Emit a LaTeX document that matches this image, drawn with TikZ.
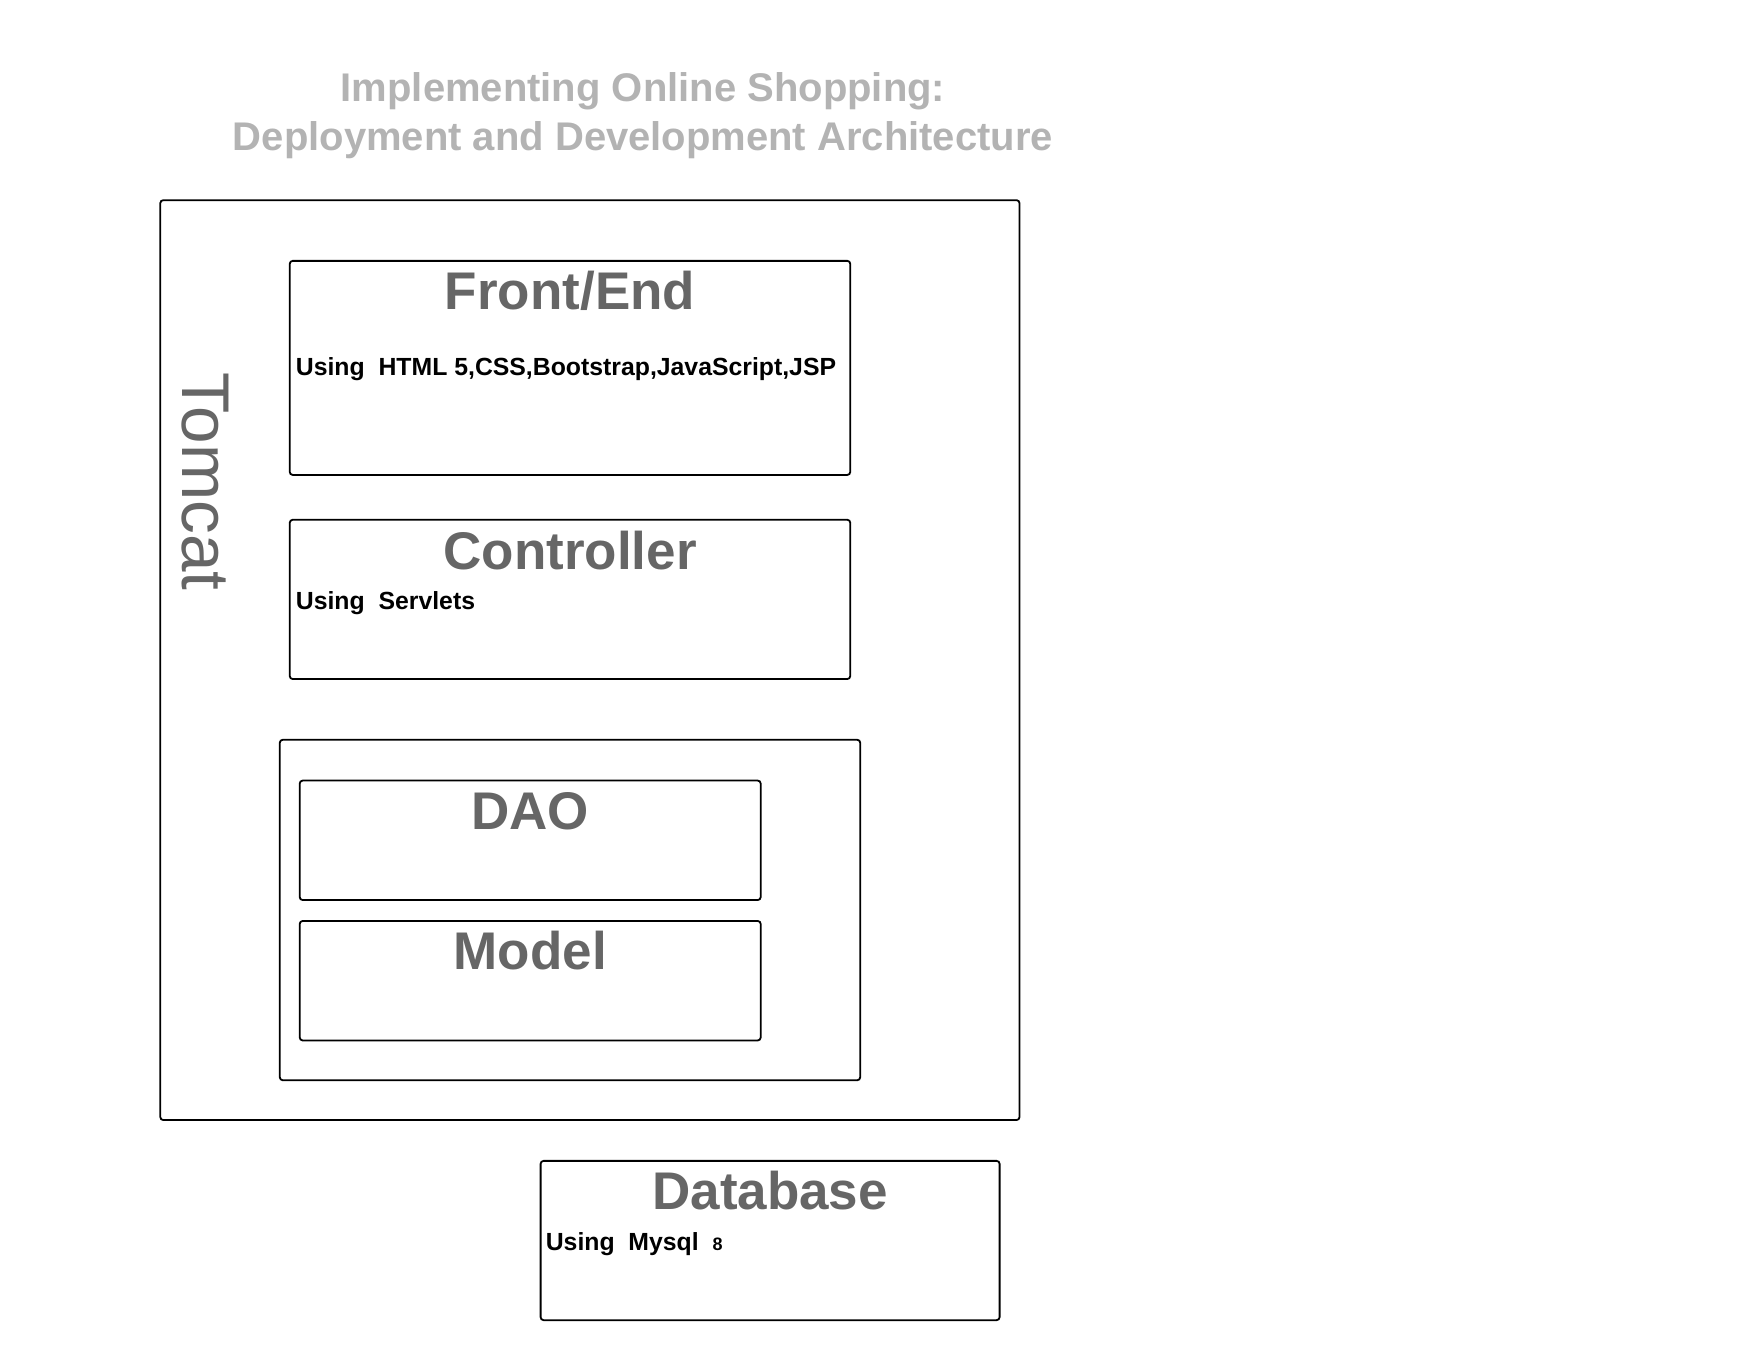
\documentclass[tikz,border=0pt]{standalone}
\usepackage{fontspec}
\setmainfont{Liberation Sans}
\usetikzlibrary{positioning}
\definecolor{headgray}{HTML}{666666}
\definecolor{titlegray}{HTML}{B3B3B3}

\begin{document}
\begin{tikzpicture}[x=1pt,y=-1pt]
			\tikzstyle{BoxStyle}   = [draw, line width=1.8pt, rounded corners=3pt, inner sep=0pt]
			\tikzstyle{HeadStyle}  = [font=\fontsize{53}{60}\selectfont\bfseries, text=headgray, inner sep=0pt, anchor=base]
			\tikzstyle{UsingStyle} = [font=\fontsize{24.8}{28}\selectfont\bfseries, inner sep=0pt, anchor=base west]
			\useasboundingbox (0,0) rectangle (1760,1360);
			%\draw[help lines,step=100pt] (0,0) grid (1760,1360);
			\node[font=\fontsize{40}{48.5}\selectfont\bfseries, text=titlegray, align=center, inner sep=0pt, anchor=base] (title) at (643,150)
				{Implementing Online Shopping:\\Deployment and Development Architecture};
			
			\node[BoxStyle, minimum width=859.2pt, minimum height=919.9pt] (tomcatbox) at (589.9,660.1) {};
			\node[rotate=-90, anchor=base, font=\fontsize{67.5}{72}\selectfont, text=headgray, inner sep=0pt] (tomcat) at (182.2,481.5) {Tomcat};
			
			\node[BoxStyle, minimum width=560.5pt, minimum height=214.1pt] (front) at (570,367.9) {};
			\node[HeadStyle] (fronthead) at (570,309.6) {Front/End};
			\node[UsingStyle] (frontuse) at (295.7,375.3) {Using\ \ HTML 5,CSS,Bootstrap,JavaScript,JSP};
			
			\node[BoxStyle, minimum width=560.5pt, minimum height=159.3pt] (ctrl) at (570,599.4) {};
			\node[HeadStyle] (ctrlhead) at (570,569.5) {Controller};
			\node[UsingStyle] (ctrluse) at (295.7,609.3) {Using\ \ Servlets};
			
			\node[BoxStyle, minimum width=580.4pt, minimum height=340.5pt] (backend) at (570,910) {};
			\node[BoxStyle, minimum width=461pt, minimum height=119.5pt] (dao) at (530.2,840.3) {};
			\node[HeadStyle] (daohead) at (530.2,829.3) {DAO};
			\node[BoxStyle, minimum width=461pt, minimum height=119.5pt] (model) at (530.2,980.7) {};
			\node[HeadStyle] (modelhead) at (530.2,969.7) {Model};
			
			\node[BoxStyle, minimum width=459pt, minimum height=159.3pt] (db) at (770.1,1240.5) {};
			\node[HeadStyle] (dbhead) at (770.1,1209.7) {Database};
			\node[UsingStyle] (dbuse) at (545.6,1250.5) {Using\ \ Mysql\ \ {\fontsize{18}{20}\selectfont 8}};
			
		\end{tikzpicture}
\end{document}
